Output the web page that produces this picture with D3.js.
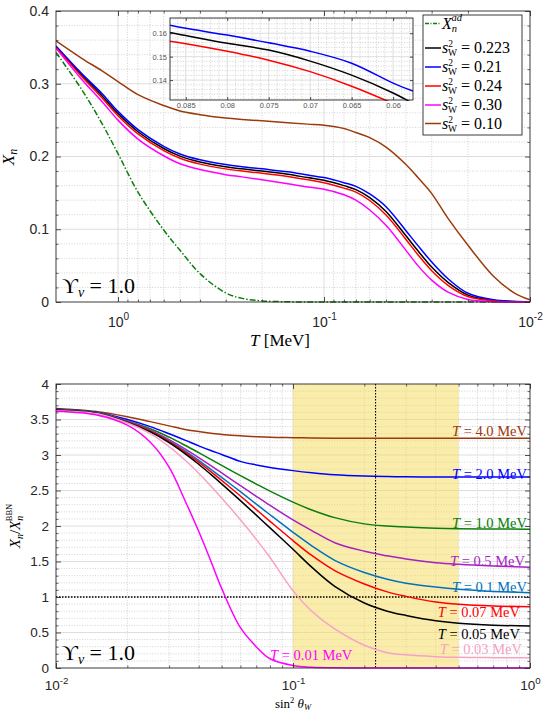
<!DOCTYPE html>
<html>
<head>
<meta charset="utf-8">
<script src="https://cdn.jsdelivr.net/npm/d3@7"></script>
<style>
	body { margin: 0; background: #fff; }
</style>
</head>
<body>
<div id="chart"></div>
<script>
// ---- top panel: X_n(T) ----
const tempT = [2, 1.5, 1.2, 1, 0.8, 0.6, 0.5, 0.4, 0.3, 0.25, 0.2, 0.15, 0.12, 0.1, 0.08, 0.07, 0.06, 0.05, 0.04, 0.035, 0.03, 0.025, 0.02, 0.015, 0.012, 0.01]
const xnAdiabatic = [0.343, 0.292, 0.246, 0.204, 0.151, 0.099, 0.071, 0.039, 0.0125, 0.005, 0.0015, 0.0003, 0, 0, 0, 0, 0, 0, 0, 0, 0, 0, 0, 0, 0, 0]
const xnS0223 = [0.351, 0.312, 0.284, 0.259, 0.234, 0.211, 0.2005, 0.1925, 0.186, 0.183, 0.18, 0.1755, 0.171, 0.1675, 0.16, 0.1545, 0.1435, 0.1245, 0.091, 0.0705, 0.048, 0.027, 0.0095, 0.002, 0.0005, 0]
const xnS021 = [0.352, 0.314, 0.287, 0.262, 0.237, 0.214, 0.2035, 0.1955, 0.189, 0.186, 0.183, 0.179, 0.1745, 0.171, 0.164, 0.159, 0.1485, 0.131, 0.098, 0.0775, 0.055, 0.032, 0.012, 0.003, 0.001, 0]
const xnS024 = [0.35, 0.31, 0.281, 0.256, 0.231, 0.208, 0.1975, 0.1895, 0.183, 0.18, 0.177, 0.1725, 0.168, 0.164, 0.1565, 0.151, 0.1395, 0.1195, 0.086, 0.065, 0.043, 0.023, 0.0075, 0.0015, 0.0003, 0]
const xnS030 = [0.349, 0.306, 0.276, 0.25, 0.224, 0.201, 0.19, 0.182, 0.175, 0.172, 0.168, 0.1625, 0.158, 0.155, 0.1475, 0.14, 0.1265, 0.1055, 0.071, 0.05, 0.03, 0.0135, 0.0035, 0.0005, 0, 0]
const xnS010 = [0.359, 0.335, 0.318, 0.303, 0.285, 0.27, 0.2625, 0.2575, 0.253, 0.251, 0.249, 0.2465, 0.2445, 0.243, 0.2385, 0.233, 0.226, 0.213, 0.189, 0.171, 0.149, 0.115, 0.078, 0.035, 0.013, 0.003]

// inset zoom
const insetT = [0.0869, 0.085, 0.08, 0.075, 0.07, 0.065, 0.06, 0.0576]
const insetS021 = [0.1634, 0.1621, 0.1592, 0.1559, 0.1523, 0.1472, 0.1387, 0.1353]
const insetS0223 = [0.1603, 0.159, 0.1557, 0.1528, 0.1481, 0.1421, 0.1345, 0.13]
const insetS024 = [0.1566, 0.1555, 0.1523, 0.1485, 0.1436, 0.1374, 0.13, 0.126]

const legendValues = ['0.223', '0.21', '0.24', '0.30', '0.10']

// ---- bottom panel: X_n / X_n^BBN vs sin^2 theta_W ----
const sin2Grid = [0.01, 0.015, 0.02, 0.025, 0.03, 0.035, 0.04, 0.045, 0.05, 0.06, 0.07, 0.08, 0.1, 0.12, 0.15, 0.2, 0.25, 0.3, 0.4, 0.5, 0.7, 1]
const ratioT40 = [3.655, 3.61, 3.54, 3.47, 3.41, 3.36, 3.33, 3.305, 3.29, 3.27, 3.258, 3.25, 3.244, 3.24, 3.237, 3.235, 3.235, 3.235, 3.235, 3.235, 3.235, 3.235]
const ratioT20 = [3.645, 3.6, 3.5, 3.4, 3.3, 3.21, 3.129, 3.063, 3.008, 2.91, 2.86, 2.825, 2.78, 2.75, 2.722, 2.703, 2.696, 2.693, 2.69, 2.69, 2.69, 2.69]
const ratioT10 = [3.64, 3.595, 3.48, 3.37, 3.251, 3.137, 3.033, 2.939, 2.854, 2.71, 2.591, 2.491, 2.336, 2.225, 2.118, 2.03, 2.0, 1.985, 1.97, 1.963, 1.958, 1.955]
const ratioT05 = [3.635, 3.59, 3.475, 3.35, 3.216, 3.085, 2.963, 2.851, 2.747, 2.569, 2.418, 2.29, 2.086, 1.936, 1.765, 1.645, 1.58, 1.535, 1.483, 1.46, 1.437, 1.42]
const ratioT01 = [3.635, 3.59, 3.47, 3.34, 3.198, 3.057, 2.924, 2.799, 2.684, 2.483, 2.309, 2.158, 1.911, 1.721, 1.517, 1.345, 1.25, 1.195, 1.14, 1.108, 1.078, 1.06]
const ratioT007 = [3.63, 3.585, 3.465, 3.335, 3.189, 3.042, 2.9, 2.767, 2.643, 2.422, 2.231, 2.066, 1.794, 1.585, 1.372, 1.184, 1.072, 1.009, 0.93, 0.897, 0.873, 0.864]
const ratioT005 = [3.63, 3.585, 3.46, 3.325, 3.175, 3.02, 2.87, 2.727, 2.594, 2.357, 2.153, 1.973, 1.672, 1.42, 1.15, 0.915, 0.8, 0.74, 0.665, 0.63, 0.603, 0.592]
const ratioT003 = [3.625, 3.58, 3.45, 3.3, 3.118, 2.93, 2.744, 2.565, 2.395, 2.087, 1.812, 1.557, 1.09, 0.8, 0.55, 0.32, 0.215, 0.185, 0.16, 0.15, 0.146, 0.145]
const ratioT001 = [3.615, 3.56, 3.42, 3.18, 2.83, 2.36, 1.925, 1.507, 1.121, 0.568, 0.3, 0.13, 0.035, 0.01, 0.003, 0, 0, 0, 0, 0, 0, 0]

const tempLabels = ['4.0', '2.0', '1.0', '0.5', '0.1', '0.07', '0.05', '0.03', '0.01']
const sin2Band = [0.1, 0.5]
const sin2Ref = 0.223
const ratioRef = 1

// ---- layout ----
const serif = "'Liberation Serif', 'DejaVu Serif', serif"
const sans = "'Liberation Sans', Arial, sans-serif"
const ink = '#262626'

const topBox = {x0: 56, x1: 530, y0: 11, y1: 302}
const botBox = {x0: 56, x1: 530, y0: 384, y1: 668}
const insetBox = {x0: 170, x1: 413, y0: 18, y1: 100}

const svg = d3
	.select('#chart')
	.append('svg')
	.attr('width', 550)
	.attr('height', 715)
	.attr('style', 'margin: 0; display: block')

const xTop = d3.scaleLog().domain([2, 0.01]).range([topBox.x0, topBox.x1])
const yTop = d3.scaleLinear().domain([0, 0.4]).range([topBox.y1, topBox.y0])
const xIn = d3.scaleLinear().domain([0.0869, 0.0576]).range([insetBox.x0, insetBox.x1])
const yIn = d3.scaleLinear().domain([0.1315, 0.1665]).range([insetBox.y1, insetBox.y0])
const xBot = d3.scaleLog().domain([0.01, 1]).range([botBox.x0, botBox.x1])
const yBot = d3.scaleLinear().domain([0, 4]).range([botBox.y1, botBox.y0])

function logMinors(lo, hi) {
	const out = []
	for (let e = -3; e <= 1; e++) {
		for (let k = 2; k <= 9; k++) {
			const v = k * Math.pow(10, e)
			if (v > lo * 1.0001 && v < hi * 0.9999) out.push(v)
		}
	}
	return out
}

function linMinors(lo, hi, step, major) {
	const out = []
	const n = Math.round((hi - lo) / step)
	for (let i = 0; i <= n; i++) {
		const v = lo + i * step
		if (Math.abs(v / major - Math.round(v / major)) > 1e-6) out.push(+v.toFixed(6))
	}
	return out
}

function addClip(id, box) {
	svg.append('clipPath').attr('id', id).append('rect')
		.attr('x', box.x0).attr('y', box.y0 - 1)
		.attr('width', box.x1 - box.x0).attr('height', box.y1 - box.y0 + 2)
}

function drawGrid(g, box, xs, ys, xMajor, xMinor, yMajor, yMinor) {
	const grid = g.append('g')
	grid.selectAll('.vminor').data(xMinor).enter().append('line')
		.attr('x1', xs).attr('x2', xs).attr('y1', box.y0).attr('y2', box.y1)
		.attr('stroke', '#b4b4b4').attr('stroke-width', 0.6).attr('stroke-dasharray', '1,1.6')
	grid.selectAll('.hminor').data(yMinor).enter().append('line')
		.attr('y1', ys).attr('y2', ys).attr('x1', box.x0).attr('x2', box.x1)
		.attr('stroke', '#b4b4b4').attr('stroke-width', 0.6).attr('stroke-dasharray', '1,1.6')
	grid.selectAll('.vmajor').data(xMajor).enter().append('line')
		.attr('x1', xs).attr('x2', xs).attr('y1', box.y0).attr('y2', box.y1)
		.attr('stroke', '#d6d6d6').attr('stroke-width', 0.8)
	grid.selectAll('.hmajor').data(yMajor).enter().append('line')
		.attr('y1', ys).attr('y2', ys).attr('x1', box.x0).attr('x2', box.x1)
		.attr('stroke', '#d6d6d6').attr('stroke-width', 0.8)
}

function drawAxes(g, box, xs, ys, xMajor, xMinor, yMajor, yMinor, opt) {
	const major = opt.major || 5
	const minor = opt.minor || 2.5
	const sides = [
		{axis: d3.axisBottom(xs), t: `translate(0,${box.y1})`, ticks: xMajor, minors: xMinor, fmt: opt.xFmt, cls: 'xaxis'},
		{axis: d3.axisTop(xs), t: `translate(0,${box.y0})`, ticks: xMajor, minors: xMinor},
		{axis: d3.axisLeft(ys), t: `translate(${box.x0},0)`, ticks: yMajor, minors: yMinor, fmt: opt.yFmt},
		{axis: d3.axisRight(ys), t: `translate(${box.x1},0)`, ticks: yMajor, minors: yMinor},
	]
	sides.forEach((s) => {
		const a = g.append('g').attr('transform', s.t).attr('class', s.cls || null)
		a.call(s.axis.tickValues(s.ticks).tickSizeInner(-major).tickSizeOuter(0)
			.tickPadding(opt.pad || 6).tickFormat(s.fmt || (() => '')))
		a.select('.domain').remove()
		a.selectAll('line').attr('stroke', ink).attr('stroke-width', 0.8)
		a.selectAll('text').attr('fill', opt.textColor || ink)
			.attr('font-family', sans).attr('font-size', opt.fontSize || 14)
		const m = g.append('g').attr('transform', s.t)
		m.call(s.axis.tickValues(s.minors).tickSizeInner(-minor).tickSizeOuter(0).tickFormat(() => ''))
		m.select('.domain').remove()
		m.selectAll('line').attr('stroke', ink).attr('stroke-width', 0.7)
	})
	g.append('rect')
		.attr('x', box.x0).attr('y', box.y0)
		.attr('width', box.x1 - box.x0).attr('height', box.y1 - box.y0)
		.attr('fill', 'none').attr('stroke', ink).attr('stroke-width', 0.9)
}

function powerLabels(g) {
	g.selectAll('.tick text').each(function (d) {
		const t = d3.select(this)
		t.text(null)
		t.append('tspan').text('10')
		t.append('tspan').attr('dy', '-0.6em').attr('font-size', '0.72em')
			.text(String(Math.round(Math.log10(d))))
	})
}

function curveLine(xs, ys) {
	return d3.line().x((d) => xs(d[0])).y((d) => ys(d[1])).curve(d3.curveCatmullRom.alpha(0.5))
}

function addText(g, x, y, parts, opt) {
	const t = g.append('text')
		.attr('x', x).attr('y', y)
		.attr('font-family', serif).attr('font-size', opt.size)
		.attr('fill', opt.color || '#000')
		.attr('text-anchor', opt.anchor || 'start')
	if (opt.rotate) t.attr('transform', `rotate(${opt.rotate},${x},${y})`)
	parts.forEach((p) => {
		const s = t.append('tspan').text(p.t)
		if (p.i) s.attr('font-style', 'italic')
		if (p.size) s.attr('font-size', p.size)
		if (p.dy) s.attr('dy', p.dy)
		if (p.dx) s.attr('dx', p.dx)
	})
	return t
}

addClip('topclip', topBox)
addClip('botclip', botBox)
addClip('inclip', insetBox)

// ================= top panel =================
const topPanel = svg.append('g')
const topXMinor = logMinors(0.01, 2)
const topYMinor = linMinors(0, 0.4, 0.02, 0.1)
drawGrid(topPanel, topBox, xTop, yTop, [1, 0.1], topXMinor, [0.1, 0.2, 0.3], topYMinor)

const topSeries = [
	{values: xnAdiabatic, color: '#0b7d0b', dash: '6,2,1.5,2'},
	{values: xnS0223, color: '#000000'},
	{values: xnS021, color: '#0000ff'},
	{values: xnS024, color: '#ff0000'},
	{values: xnS030, color: '#ff00ff'},
	{values: xnS010, color: '#9c3a0c'},
]
const topLine = curveLine(xTop, yTop)
topPanel.append('g').attr('clip-path', 'url(#topclip)')
	.selectAll('path')
	.data(topSeries)
	.enter()
	.append('path')
	.attr('d', (s) => topLine(tempT.map((t, i) => [t, s.values[i]])))
	.attr('fill', 'none')
	.attr('stroke', (s) => s.color)
	.attr('stroke-width', 1.5)
	.attr('stroke-dasharray', (s) => s.dash || null)

const topAxes = svg.append('g')
drawAxes(topAxes, topBox, xTop, yTop, [1, 0.1, 0.01], topXMinor, [0, 0.1, 0.2, 0.3, 0.4], topYMinor, {
	xFmt: () => '',
	yFmt: (d) => (d === 0 ? '0' : d3.format('.1f')(d)),
	pad: 7,
})
powerLabels(topAxes.select('.xaxis'))
topAxes.select('.xaxis').selectAll('.tick text').attr('dy', '1.25em')

// inset
const inset = svg.append('g')
inset.append('rect')
	.attr('x', insetBox.x0).attr('y', insetBox.y0)
	.attr('width', insetBox.x1 - insetBox.x0).attr('height', insetBox.y1 - insetBox.y0)
	.attr('fill', '#fff')
const inXMajor = [0.085, 0.08, 0.075, 0.07, 0.065, 0.06]
const inYMajor = [0.14, 0.15, 0.16]
const inXMinor = d3.range(58, 87).map((k) => k / 1000).filter((v) => !inXMajor.some((m) => Math.abs(m - v) < 1e-9))
const inYMinor = d3.range(66, 84).map((k) => k / 500).filter((v) => !inYMajor.some((m) => Math.abs(m - v) < 1e-9))
drawGrid(inset, insetBox, xIn, yIn, inXMajor, inXMinor, inYMajor, inYMinor)
const inLine = curveLine(xIn, yIn)
inset.append('g').attr('clip-path', 'url(#inclip)')
	.selectAll('path')
	.data([
		{values: insetS021, color: '#0000ff'},
		{values: insetS0223, color: '#000000'},
		{values: insetS024, color: '#ff0000'},
	])
	.enter()
	.append('path')
	.attr('d', (s) => inLine(insetT.map((t, i) => [t, s.values[i]])))
	.attr('fill', 'none')
	.attr('stroke', (s) => s.color)
	.attr('stroke-width', 1.5)
drawAxes(inset, insetBox, xIn, yIn, inXMajor, [], inYMajor, [], {
	xFmt: (d) => String(d),
	yFmt: (d) => String(d),
	major: 3,
	minor: 1.5,
	pad: 3,
	fontSize: 7.5,
	textColor: '#555',
})

// legend
const legend = svg.append('g')
legend.append('rect')
	.attr('x', 423).attr('y', 15).attr('width', 99).attr('height', 120)
	.attr('fill', '#fff').attr('stroke', ink).attr('stroke-width', 0.9)
const legendRows = [23.5, 48, 67, 86, 105, 123.5]
legend.append('line')
	.attr('x1', 425).attr('x2', 441).attr('y1', legendRows[0]).attr('y2', legendRows[0])
	.attr('stroke', topSeries[0].color).attr('stroke-width', 1.5).attr('stroke-dasharray', '4,1.5,1,1.5')
addText(legend, 442, legendRows[0] + 5, [
	{t: 'X', i: true},
	{t: 'n', i: true, size: 10.5, dy: 3},
	{t: 'ad', i: true, size: 10.5, dx: -5.5, dy: -11},
], {size: 16})
legendValues.forEach((v, i) => {
	const y = legendRows[i + 1]
	legend.append('line')
		.attr('x1', 425).attr('x2', 441).attr('y1', y).attr('y2', y)
		.attr('stroke', topSeries[i + 1].color).attr('stroke-width', 1.5)
	addText(legend, 442, y + 5, [
		{t: 's', i: true},
		{t: '2', size: 9.5, dy: -6},
		{t: 'W', size: 9.5, dx: -5, dy: 9},
		{t: ' = ' + v, dy: -3},
	], {size: 16})
})

addText(svg, 62, 293, [
	{t: 'ϒ'},
	{t: 'ν', i: true, size: 14, dy: 4},
	{t: ' = 1.0', dy: -4},
], {size: 22})

addText(svg, 14, 157, [
	{t: 'X', i: true},
	{t: 'n', i: true, size: 12, dy: 3},
], {size: 17, rotate: -90, anchor: 'middle'})

addText(svg, 280, 346, [
	{t: 'T', i: true},
	{t: ' [MeV]'},
], {size: 17, anchor: 'middle'})

// ================= bottom panel =================
const botPanel = svg.append('g')
const botXMinor = logMinors(0.01, 1)
const botYMinor = linMinors(0, 4, 0.1, 0.5)
const botYMajor = d3.range(0, 4.01, 0.5)
drawGrid(botPanel, botBox, xBot, yBot, [0.1], botXMinor, botYMajor.slice(1, -1), botYMinor)

botPanel.append('rect')
	.attr('x', xBot(sin2Band[0])).attr('y', botBox.y0)
	.attr('width', xBot(sin2Band[1]) - xBot(sin2Band[0]))
	.attr('height', botBox.y1 - botBox.y0)
	.attr('fill', '#f5dc5a').attr('opacity', 0.5)

botPanel.append('line')
	.attr('x1', botBox.x0).attr('x2', botBox.x1)
	.attr('y1', yBot(ratioRef)).attr('y2', yBot(ratioRef))
	.attr('stroke', '#000').attr('stroke-width', 1.3).attr('stroke-dasharray', '1.5,1.5')
botPanel.append('line')
	.attr('x1', xBot(sin2Ref)).attr('x2', xBot(sin2Ref))
	.attr('y1', botBox.y0).attr('y2', botBox.y1)
	.attr('stroke', '#000').attr('stroke-width', 1.1).attr('stroke-dasharray', '1.5,1.5')

const botSeries = [
	{values: ratioT40, color: '#9c3a0c', anchor: 'end', lx: 527, dy: -2.5},
	{values: ratioT20, color: '#0000ff', anchor: 'end', lx: 527, dy: 1.5},
	{values: ratioT10, color: '#0b7d0b', anchor: 'end', lx: 527, dy: -1},
	{values: ratioT05, color: '#a81fc4', anchor: 'end', lx: 525, dy: -1.5},
	{values: ratioT01, color: '#0072bd', anchor: 'end', lx: 527, dy: -0.5},
	{values: ratioT007, color: '#ff0000', anchor: 'end', lx: 520, dy: 10.5},
	{values: ratioT005, color: '#000000', anchor: 'end', lx: 520, dy: 13},
	{values: ratioT003, color: '#f7a1c6', anchor: 'end', lx: 522, dy: -4},
	{values: ratioT001, color: '#ff00ff', anchor: 'start', lx: 270, dy: -8},
]
const botLine = curveLine(xBot, yBot)
botPanel.append('g').attr('clip-path', 'url(#botclip)')
	.selectAll('path')
	.data(botSeries)
	.enter()
	.append('path')
	.attr('d', (s) => botLine(sin2Grid.map((x, i) => [x, s.values[i]])))
	.attr('fill', 'none')
	.attr('stroke', (s) => s.color)
	.attr('stroke-width', 1.5)

botSeries.forEach((s, i) => {
	addText(botPanel, s.lx, yBot(s.values[s.values.length - 1]) + s.dy, [
		{t: 'T', i: true},
		{t: ' = ' + tempLabels[i] + ' MeV'},
	], {size: 14.5, color: s.color, anchor: s.anchor})
})

const botAxes = svg.append('g')
drawAxes(botAxes, botBox, xBot, yBot, [0.01, 0.1, 1], botXMinor, botYMajor, botYMinor, {
	xFmt: () => '',
	yFmt: (d) => String(d),
	pad: 7,
	fontSize: 13.5,
})
powerLabels(botAxes.select('.xaxis'))
botAxes.select('.xaxis').selectAll('.tick text').attr('dy', '1.1em')

addText(svg, 62, 660, [
	{t: 'ϒ'},
	{t: 'ν', i: true, size: 14, dy: 4},
	{t: ' = 1.0', dy: -4},
], {size: 22})

addText(svg, 293, 708, [
	{t: 'sin'},
	{t: '2', size: 8.5, dy: -5},
	{t: ' θ', i: true, dy: 5},
	{t: 'W', i: true, size: 8.5, dy: 2},
], {size: 13, anchor: 'middle'})

addText(svg, 20, 526, [
	{t: 'X', i: true},
	{t: 'n', i: true, size: 10, dy: 3},
	{t: '/', dy: -3},
	{t: 'X', i: true},
	{t: 'n', i: true, size: 10, dy: 3},
	{t: 'BBN', size: 8.5, dx: -5.5, dy: -11},
], {size: 15, rotate: -90, anchor: 'middle'})
</script>
</body>
</html>
